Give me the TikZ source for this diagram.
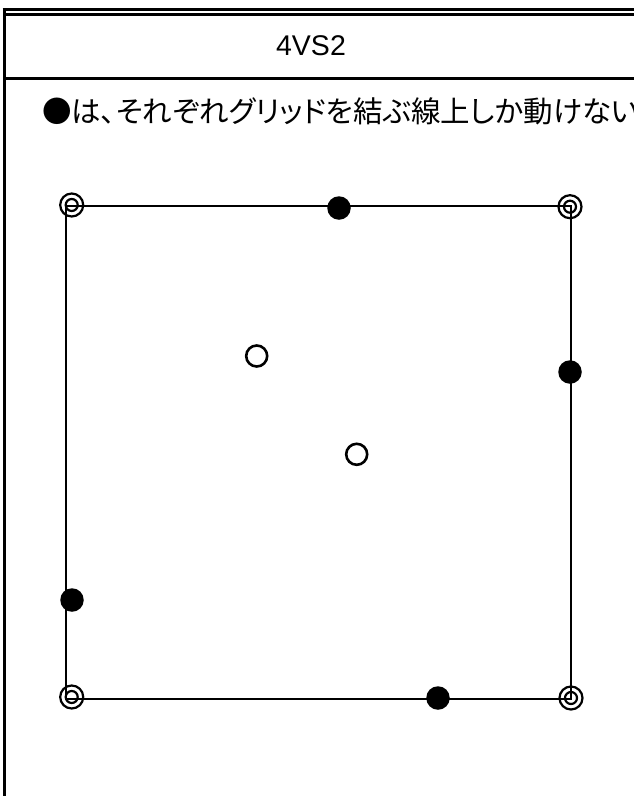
\documentclass[tikz,border=0pt]{standalone}
\usepackage{fontspec}
\setmainfont{Liberation Sans}
\newfontfamily\jpfont[RawFeature=+palt]{Noto Sans CJK JP}
\begin{document}
\begin{tikzpicture}[x=1pt,y=-1pt]
        \tikzstyle{blackpt}=[circle,fill=black,inner sep=0pt,minimum size=23.5pt]
        \tikzstyle{whitept}=[circle,draw=black,line width=2.6pt,inner sep=0pt,minimum size=21pt]
        \tikzstyle{ringout}=[circle,draw=black,line width=2.2pt,inner sep=0pt,minimum size=23pt]
        \tikzstyle{ringin}=[circle,draw=black,line width=2.2pt,inner sep=0pt,minimum size=12pt]
        \tikzstyle{edge}=[line width=2.8pt]

        \useasboundingbox (0,0) rectangle (634,796);
        \clip (0,0) rectangle (634,796);

        % frame
        \coordinate (f1) at (2.6,9.3);
        \coordinate (f2) at (640,9.3);
        \coordinate (f3) at (4.3,14.2);
        \coordinate (f4) at (640,14.2);
        \coordinate (f5) at (4.3,78.3);
        \coordinate (f6) at (640,78.3);
        \coordinate (f7) at (4.3,8);
        \coordinate (f8) at (4.3,800);
        \draw[line width=2.7pt] (f1) -- (f2);
        \draw[line width=3pt] (f3) -- (f4);
        \draw[line width=3.3pt] (f5) -- (f6);
        \draw[line width=3.3pt] (f7) -- (f8);

        \node (title) at (311,46) {\fontsize{28.5}{32}\selectfont 4VS2};
        \node (rule)[anchor=west,inner sep=0pt] at (42,111) {\jpfont\fontsize{29.5}{33}\selectfont ●は、それぞれグリッドを結ぶ線上しか動けない};

        % grid
        \coordinate (tl) at (66,206);
        \coordinate (tr) at (571,206);
        \coordinate (br) at (571,699);
        \coordinate (bl) at (66,699);
        \draw[edge] (tl) -- (tr) -- (br) -- (bl) -- cycle;

        \foreach \n/\p in {a/{(71.7,205)}, b/{(570,206.7)}, c/{(571,698)}, d/{(71.7,697)}} {
            \node (\n)[ringout] at \p {};
            \node (\n i)[ringin] at \p {};
        }

        \node (s1)[blackpt] at (339,208) {};
        \node (s2)[blackpt] at (570,372) {};
        \node (s3)[blackpt] at (72,600) {};
        \node (s4)[blackpt] at (438,698) {};

        \node (w1)[whitept] at (256.7,356) {};
        \node (w2)[whitept] at (356.7,454.3) {};
    \end{tikzpicture}
\end{document}
